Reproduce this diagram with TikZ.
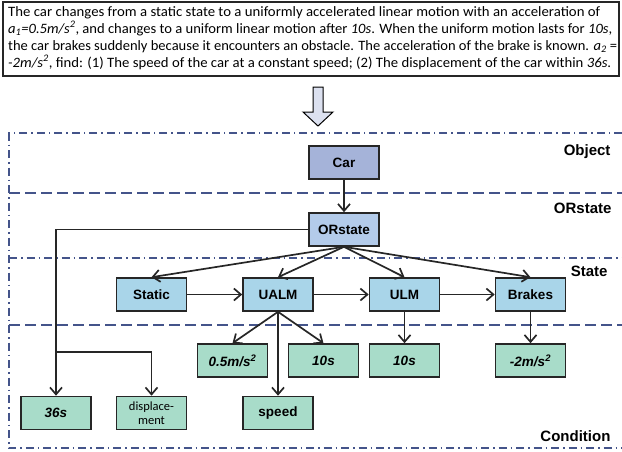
\documentclass[tikz,border=0pt]{standalone}
\usepackage{fontspec}
\setmainfont{Carlito}
\newfontfamily\labelfont{Liberation Sans}
\usetikzlibrary{arrows.meta}
\definecolor{framecol}{HTML}{44548A}
\definecolor{objcol}{HTML}{A5B3D9}
\definecolor{orcol}{HTML}{B3CBEA}
\definecolor{statecol}{HTML}{A9D5E9}
\definecolor{condcol}{HTML}{A8DCC9}
\definecolor{arrowcol}{HTML}{DCE1F0}
% one line of the problem text, stretched to a given width
\newcommand\fitline[2]{\resizebox{#1}{\height}{#2}}
\begin{document}
\begin{tikzpicture}[x=1pt,y=-1pt,
  box/.style={draw=black!85,line width=1.6pt,minimum width=70pt,minimum height=33pt,inner sep=1pt,
    font=\labelfont\bfseries\fontsize{13.5}{15}\selectfont},
  objbox/.style={box,fill=objcol},
  orbox/.style={box,fill=orcol},
  statebox/.style={box,fill=statecol},
  condbox/.style={box,fill=condcol},
  layername/.style={anchor=east,font=\labelfont\bfseries\fontsize{15}{17}\selectfont},
  conn/.style={line width=1.7pt,draw=black!85,-{Straight Barb[length=7pt,width=12pt,line width=1.7pt]}},
  dashsep/.style={framecol,line width=1.5pt,dash pattern=on 11pt off 5pt},
  dotsep/.style={framecol,line width=1.5pt,dash pattern=on 8pt off 4pt on 1.5pt off 4pt}]
\useasboundingbox (0,0) rectangle (622,451);
% problem text
\draw[line width=2pt,black!85] (3,2) rectangle (619,76);
\node[anchor=north west,align=left,inner sep=0pt,font=\fontsize{14.3}{17}\selectfont] (problem) at (8,6)
  {\fitline{592pt}{The car changes from a static state to a uniformly accelerated linear motion with an acceleration of}\\
   \fitline{604pt}{\textit{a\textsubscript{1}=0.5m/s\textsuperscript{2}}, and changes to a uniform linear motion after \textit{10s}. When the uniform motion lasts for \textit{10s},}\\
   \fitline{609pt}{the car brakes suddenly because it encounters an obstacle. The acceleration of the brake is known. \textit{a\textsubscript{2}} =}\\
   \fitline{603pt}{\textit{-2m/s\textsuperscript{2}}, find: (1) The speed of the car at a constant speed; (2) The displacement of the car within \textit{36s}.}};
% block arrow
\draw[fill=arrowcol,line width=1pt] (313,87) -- (323,87) -- (323,112) -- (333,112) -- (318,126)
  -- (303,112) -- (313,112) -- cycle;
% layers
\draw[dotsep] (622,133) -- (9,133) -- (9,448) -- (622,448);
\draw[dashsep] (9,193) -- (622,193);
\draw[dotsep] (9,258) -- (622,258);
\draw[dashsep] (9,325) -- (622,325);
\node[layername] (lobject) at (614,152) {Object};
\node[layername] (lorstate) at (615,208) {ORstate};
\node[layername] (lstate) at (611,271) {State};
\node[layername] (lcondition) at (614,436) {Condition};
% nodes
\node[objbox] (car) at (344,162.5) {Car};
\node[orbox] (orstate) at (344,229.5) {ORstate};
\node[statebox] (static) at (151.5,294.5) {Static};
\node[statebox] (ualm) at (278,294.5) {UALM};
\node[statebox] (ulm) at (404.5,294.5) {ULM};
\node[statebox] (brakes) at (530.5,294.5) {Brakes};
\node[condbox] (acc1) at (232.5,360.5) {\itshape 0.5m/s\textsuperscript{2}};
\node[condbox] (time1) at (323.5,360.5) {\itshape 10s};
\node[condbox] (time2) at (404.5,360.5) {\itshape 10s};
\node[condbox] (acc2) at (530.5,360.5) {\itshape -2m/s\textsuperscript{2}};
\node[condbox] (total) at (56,413) {\itshape 36s};
\node[condbox,align=center,font=\fontsize{12.5}{14}\selectfont] (disp) at (151.5,413) {displace-\\ment};
\node[condbox] (speed) at (278,413) {speed};
% connectors
\draw[conn] (car) -- (orstate);
\draw[conn] (orstate.south) -- (static.north);
\draw[conn] (orstate.south) -- (ualm.north);
\draw[conn] (orstate.south) -- (ulm.north);
\draw[conn] (orstate.south) -- (brakes.north);
\draw[conn] (static) -- (ualm);
\draw[conn] (ualm) -- (ulm);
\draw[conn] (ulm) -- (brakes);
\draw[conn] (ualm.south) -- (acc1.north);
\draw[conn] (ualm.south) -- (time1.north);
\draw[conn] (ualm.south) -- (speed.north);
\draw[conn] (ulm) -- (time2);
\draw[conn] (brakes) -- (acc2);
\draw[conn] (orstate.west) -| (total.north);
\coordinate (fork) at (56,352);
\draw[conn] (fork) -| (disp.north);
\end{tikzpicture}
\end{document}
